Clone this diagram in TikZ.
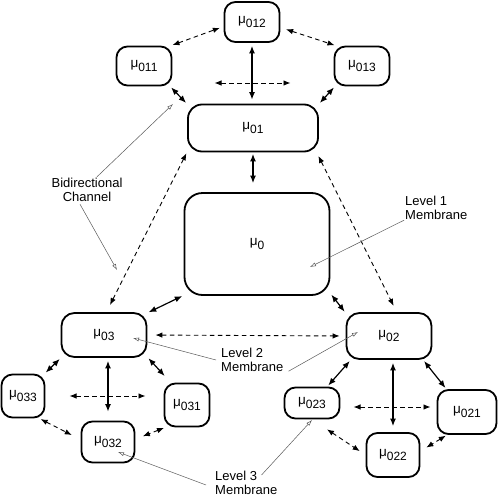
\documentclass[tikz,border=0pt]{standalone}
\usepackage{fontspec}
\setmainfont{Liberation Sans}
\usetikzlibrary{arrows.meta}
\newcommand\mmu[1]{\fontsize{13.5}{14}\selectfont μ\raisebox{-4.5pt}{\fontsize{12}{12}\selectfont #1}}
\begin{document}
\begin{tikzpicture}[x=1pt,y=-1pt,
  mem/.style={draw, line width=1.8pt, rounded corners=11pt, inner sep=0pt},
  chan/.style={{Latex[length=7.5pt,width=6pt]}-{Latex[length=7.5pt,width=6pt]}, line width=1.2pt, shorten <=1.5pt, shorten >=1.5pt},
  dchan/.style={{Latex[length=7pt,width=5.5pt]}-{Latex[length=7pt,width=5.5pt]}, line width=0.9pt, dash pattern=on 4.5pt off 3.5pt, shorten <=1.5pt, shorten >=1.5pt},
  note/.style={-{Latex[open,length=6pt,width=4pt]}, line width=0.5pt, draw=black!65},
  lbl/.style={font=\fontsize{13}{14.5}\selectfont, inner sep=0pt}
]
\useasboundingbox (0,0) rectangle (498,498);

% membranes
\node[mem, minimum width=55pt, minimum height=40pt] (m012) at (252,22) {\mmu{012}};
\node[mem, minimum width=55pt, minimum height=39pt] (m011) at (144,66) {\mmu{011}};
\node[mem, minimum width=55pt, minimum height=39pt] (m013) at (362,66) {\mmu{013}};
\node[mem, minimum width=130pt, minimum height=47pt, rounded corners=14pt] (m01) at (253,128) {\mmu{01}};
\node[mem, minimum width=145pt, minimum height=102pt, rounded corners=18pt] (m0) at (257,244) {\mmu{0}};
\node[mem, minimum width=85pt, minimum height=44pt, rounded corners=13pt] (m03) at (104,335) {\mmu{03}};
\node[mem, minimum width=43pt, minimum height=43pt] (m033) at (23,396) {\mmu{033}};
\node[mem, minimum width=45pt, minimum height=43pt] (m031) at (187,405) {\mmu{031}};
\node[mem, minimum width=53pt, minimum height=41pt] (m032) at (108,442) {\mmu{032}};
\node[mem, minimum width=85pt, minimum height=46pt, rounded corners=13pt] (m02) at (389,336) {\mmu{02}};
\node[mem, minimum width=55pt, minimum height=31pt] (m023) at (312,403) {\mmu{023}};
\node[mem, minimum width=59pt, minimum height=44pt] (m021) at (467,412) {\mmu{021}};
\node[mem, minimum width=53pt, minimum height=44pt] (m022) at (393,455) {\mmu{022}};

% free ends of the inner dashed channels
\coordinate (h1a) at (213,83); \coordinate (h1b) at (292,83);
\coordinate (h2a) at (68,396); \coordinate (h2b) at (147,396);
\coordinate (h3a) at (352,407); \coordinate (h3b) at (432,407);

% level 1 group
\draw[dchan, shorten >=4pt] (m011.37) -- (m012.189);
\draw[dchan, shorten <=6pt] (m012.-11) -- (m013.142);
\draw[chan, shorten <=3pt, shorten >=4pt] (m012.south) -- (m012.south |- m01.north);
\draw[dchan] (h1a) -- (h1b);
\draw[chan] (m011.-38) -- (m01.160);
\draw[chan] (m013.217) -- (m01.20);
\draw[chan, shorten >=9pt] (m01.south) -- (m01.south |- m0.north);
\draw[dchan, shorten >=8pt] (m01.200) -- (m03.84);
\draw[dchan, shorten <=4pt, shorten >=7pt] (m01.-21) -- (m02.72);
\draw[chan] (m0.215) -- (m03.27);
\draw[chan] (m0.-34) -- (m02.152);
\draw[dchan, shorten <=8pt, shorten >=6pt] (m03.east) -- (m02.west);

% group 03
\draw[chan] (m03.208) -- (m033.46);
\draw[chan, shorten >=9pt] (m03.-27) -- (m031.126);
\draw[chan, shorten <=3pt, shorten >=9pt] (m03.south -| m032.north) -- (m032.north);
\draw[dchan] (h2a) -- (h2b);
\draw[dchan, shorten >=10pt] (m033.-54) -- (m032.175);
\draw[dchan, shorten >=8pt] (m031.226) -- (m032.6);

% group 02
\draw[chan] (m02.212) -- (m023.47);
\draw[chan] (m02.-35) -- (m021.132);
\draw[chan, shorten <=3pt, shorten >=6pt] (m02.south -| m022.north) -- (m022.north);
\draw[dchan] (h3a) -- (h3b);
\draw[dchan, shorten <=18pt, shorten >=7pt] (m023.south) -- (m022.180);
\draw[dchan, shorten >=7pt] (m021.229) -- (m022.8);

% labels
\node[lbl, align=center] (bid) at (87,190) {Bidirectional\\Channel};
\node[lbl, align=left, anchor=west] (l1) at (405,208) {Level 1\\Membrane};
\node[lbl, align=left, anchor=west] (l2) at (221,360) {Level 2\\Membrane};
\node[lbl, align=left, anchor=west] (l3) at (215,483) {Level 3\\Membrane};

\coordinate (t1) at (173,104);
\coordinate (t2) at (117,270);
\coordinate (t3) at (310,267);
\coordinate (t4) at (133,338);
\coordinate (t5) at (358,332);
\coordinate (t6) at (118,452);
\coordinate (t7) at (312,420);

\draw[note] ([xshift=10pt,yshift=1pt]bid.north) -- (t1);
\draw[note] ([xshift=-7pt,yshift=-2pt]bid.south) -- (t2);
\draw[note] ([xshift=-1pt]l1.south west) -- (t3);
\draw[note] ([xshift=-5pt]l2.west) -- (t4);
\draw[note] ([xshift=5pt,yshift=1pt]l2.south east) -- (t5);
\draw[note] ([xshift=-9pt,yshift=-2pt]l3.west) -- (t6);
\draw[note] ([xshift=-16pt,yshift=8pt]l3.east) -- (t7);
\end{tikzpicture}
\end{document}
